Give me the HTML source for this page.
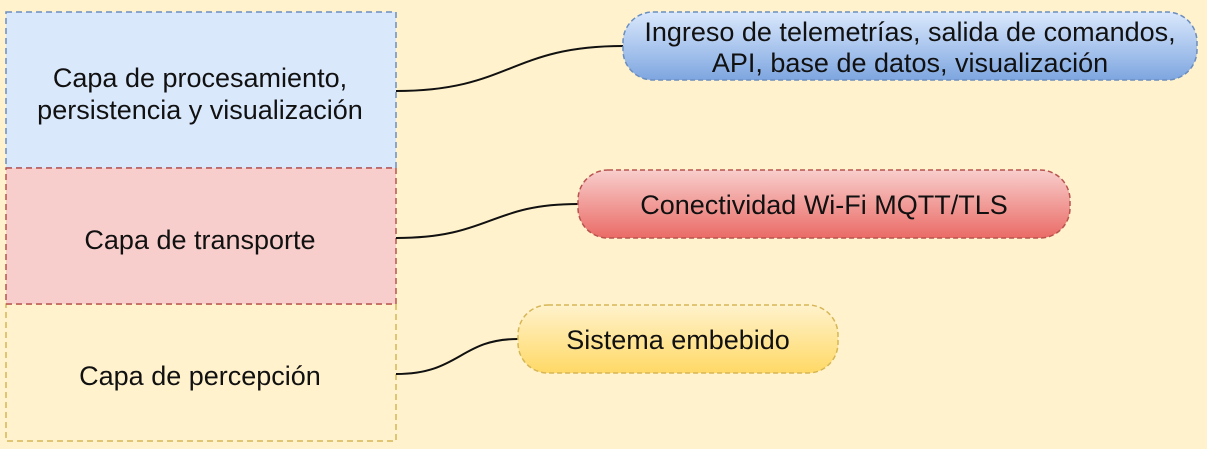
<!DOCTYPE html>
<html><head><style>
body{margin:0;background:#fff2cc;}
svg{display:block}
text{font-family:"Liberation Sans",Arial,sans-serif;font-size:27px;fill:#111;text-anchor:middle}
</style></head><body>
<svg width="1207" height="449" xmlns="http://www.w3.org/2000/svg">
<defs>
<linearGradient id="gb" x1="0" y1="0" x2="0" y2="1"><stop offset="0" stop-color="#dae8fc"/><stop offset="1" stop-color="#7ea6e0"/></linearGradient>
<linearGradient id="gr" x1="0" y1="0" x2="0" y2="1"><stop offset="0" stop-color="#f8cecc"/><stop offset="1" stop-color="#ea6b66"/></linearGradient>
<linearGradient id="gy" x1="0" y1="0" x2="0" y2="1"><stop offset="0" stop-color="#fff2cc"/><stop offset="1" stop-color="#ffd966"/></linearGradient>
</defs>
<rect width="1207" height="449" fill="#fff2cc"/>
<rect x="6" y="12" width="390" height="156" fill="#dae8fc" stroke="#6c8ebf" stroke-width="1.5" stroke-dasharray="6 4"/>
<rect x="6" y="304" width="390" height="137" fill="#fff2cc" stroke="#d6b656" stroke-width="1.5" stroke-dasharray="6 4"/>
<rect x="6" y="168" width="390" height="136" fill="#f8cecc" stroke="#b85450" stroke-width="1.5" stroke-dasharray="6 4"/>
<text x="200" y="87">Capa de procesamiento,</text>
<text x="200" y="119">persistencia  y visualización</text>
<text x="200" y="249">Capa de transporte</text>
<text x="200" y="385">Capa de percepción</text>
<path d="M396 91 C510 91 510 46 623 46" fill="none" stroke="#111" stroke-width="2"/>
<path d="M396 238 C490 238 490 204 578 204" fill="none" stroke="#111" stroke-width="2"/>
<path d="M396 374 C460 374 460 339 518 339" fill="none" stroke="#111" stroke-width="2"/>
<rect x="623" y="12" width="574" height="68" rx="30" fill="url(#gb)" stroke="#6c8ebf" stroke-width="1.5" stroke-dasharray="5 3"/>
<text x="910" y="41">Ingreso de telemetrías, salida de comandos,</text>
<text x="910" y="72">API, base de datos, visualización</text>
<rect x="578" y="170" width="492" height="68" rx="30" fill="url(#gr)" stroke="#b85450" stroke-width="1.5" stroke-dasharray="5 3"/>
<text x="824" y="214">Conectividad Wi-Fi MQTT/TLS</text>
<rect x="518" y="305" width="320" height="68" rx="30" fill="url(#gy)" stroke="#d6b656" stroke-width="1.5" stroke-dasharray="5 3"/>
<text x="678" y="349">Sistema embebido</text>
</svg>
</body></html>
